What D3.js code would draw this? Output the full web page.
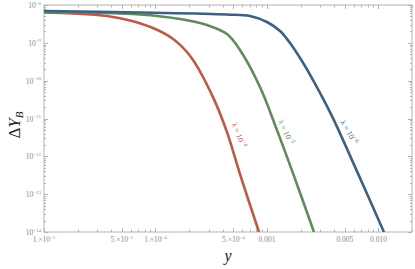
<!DOCTYPE html>
<html>
<head>
<meta charset="utf-8">
<script src="https://cdn.jsdelivr.net/npm/d3@7"></script>
<style>
  body { margin: 0; background: #fff; }
  text { font-family: "Liberation Serif", "DejaVu Serif", serif; }
</style>
</head>
<body>
<script>
// curves: x = y (abscissa), value = Delta Y_B
var xRed   = [1e-5, 1.82e-5, 3.67e-5, 5.91e-5, 9.5e-5, 1.44e-4, 2.08e-4, 3.28e-4, 4.38e-4, 5.73e-4, 8.48e-4];
var yRed   = [6.33e-9, 5.96e-9, 5.12e-9, 3.89e-9, 2.46e-9, 1.26e-9, 4.21e-10, 3.68e-11, 4.37e-12, 3.38e-13, 1e-14];
var xGreen = [1e-5, 7.26e-5, 1.66e-4, 2.9e-4, 4.38e-4, 5.73e-4, 8.66e-4, 1.23e-3, 1.71e-3, 2.64e-3];
var yGreen = [6.53e-9, 5.61e-9, 4.26e-9, 2.96e-9, 1.71e-9, 6.45e-10, 6.78e-11, 4.93e-12, 3.6e-13, 1e-14];
var xBlue  = [1e-5, 4.38e-4, 7.04e-4, 1e-3, 1.31e-3, 1.61e-3, 2.06e-3, 2.59e-3, 3.83e-3, 6.41e-3, 1.12e-2];
var yBlue  = [6.94e-9, 5.61e-9, 5.12e-9, 3.55e-9, 2.05e-9, 9.88e-10, 3.30e-10, 1.04e-10, 1.16e-11, 4.06e-13, 1e-14];

var seriesNames = ["\u03bb = 10", "\u03bb = 10", "\u03bb = 10"];
var seriesExp = ["\u22124", "\u22125", "\u22126"];

var xTickVals = [1e-5, 5e-5, 1e-4, 5e-4, 1e-3, 5e-3, 1e-2];
var xTickBase = ["1.\u00d710", "5.\u00d710", "1.\u00d710", "5.\u00d710", "0.001", "0.005", "0.010"];
var xTickExp  = ["\u22125", "\u22125", "\u22124", "\u22124", "", "", ""];
var yTickVals = [1e-8, 1e-9, 1e-10, 1e-11, 1e-12, 1e-13, 1e-14];
var yTickExp  = ["\u22128", "\u22129", "\u221210", "\u221211", "\u221212", "\u221213", "\u221214"];

var width = 415, height = 269;
var margin = {top: 5, right: 3, bottom: 37, left: 44};
var colors = ["#bd5a44", "#5e8d5b", "#3e6083"];

var svg = d3.select("body").append("svg")
  .attr("width", width)
  .attr("height", height);

var x = d3.scaleLog().domain([1e-5, 0.02]).range([margin.left, width - margin.right]);
var y = d3.scaleLog().domain([1e-14, 1e-8]).range([height - margin.bottom, margin.top]);

var axisColor = "#b3b3b3";
var labelColor = "#8a8a8a";

// minor ticks for every decade
var xMinor = [], yMinor = [];
for (var e = -5; e <= -2; e++) {
  for (var m = 2; m <= 9; m++) {
    var v = m * Math.pow(10, e);
    if (v <= 0.02 && m != 5) xMinor.push(v);
  }
}
for (var e2 = -14; e2 < -8; e2++) {
  for (var m2 = 2; m2 <= 9; m2++) yMinor.push(m2 * Math.pow(10, e2));
}

// frame
svg.append("rect")
  .attr("x", margin.left).attr("y", margin.top)
  .attr("width", width - margin.right - margin.left)
  .attr("height", height - margin.bottom - margin.top)
  .attr("fill", "none").attr("stroke", axisColor).attr("stroke-width", 1);

var x0 = margin.left, x1 = width - margin.right;
var y0 = height - margin.bottom, y1 = margin.top;

function drawTicks(vals, len) {
  vals.forEach(function(v) {
    var px = Math.round(x(v)) + 0.5;
    svg.append("line").attr("x1", px).attr("x2", px).attr("y1", y0).attr("y2", y0 - len)
      .attr("stroke", axisColor);
    svg.append("line").attr("x1", px).attr("x2", px).attr("y1", y1).attr("y2", y1 + len)
      .attr("stroke", axisColor);
  });
}
function drawYTicks(vals, len) {
  vals.forEach(function(v) {
    var py = Math.round(y(v)) + 0.5;
    svg.append("line").attr("x1", x0).attr("x2", x0 + len).attr("y1", py).attr("y2", py)
      .attr("stroke", axisColor);
    svg.append("line").attr("x1", x1).attr("x2", x1 - len).attr("y1", py).attr("y2", py)
      .attr("stroke", axisColor);
  });
}
drawTicks(xTickVals, 4);
drawTicks(xMinor, 2.5);
drawYTicks(yTickVals, 4);
drawYTicks(yMinor, 2);

// x tick labels
xTickVals.forEach(function(v, i) {
  var t = svg.append("text")
    .attr("x", x(v)).attr("y", y0 + 10)
    .attr("text-anchor", "middle")
    .attr("font-size", "7.5px")
    .attr("fill", labelColor);
  t.append("tspan").text(xTickBase[i]);
  if (xTickExp[i]) {
    t.append("tspan").attr("dy", -3.5).attr("font-size", "5px").text(xTickExp[i]);
  }
});

// y tick labels
yTickVals.forEach(function(v, i) {
  var t = svg.append("text")
    .attr("x", x0 - 3).attr("y", y(v) + 3)
    .attr("text-anchor", "end")
    .attr("font-size", "7.5px")
    .attr("fill", labelColor);
  t.append("tspan").text("10");
  t.append("tspan").attr("dy", -3.5).attr("font-size", "5px").text(yTickExp[i]);
});

// curves
var line = d3.line()
  .x(function(d) { return x(d[0]); })
  .y(function(d) { return y(d[1]); })
  .curve(d3.curveCatmullRom.alpha(0.5));

var allX = [xRed, xGreen, xBlue];
var allY = [yRed, yGreen, yBlue];

svg.append("defs").append("clipPath").attr("id", "clip")
  .append("rect").attr("x", x0).attr("y", y1).attr("width", x1 - x0).attr("height", y0 - y1);

allX.forEach(function(xs, i) {
  var pts = xs.map(function(v, j) { return [v, allY[i][j]]; });
  svg.append("path")
    .datum(pts)
    .attr("d", line)
    .attr("clip-path", "url(#clip)")
    .attr("fill", "none")
    .attr("stroke", colors[i])
    .attr("stroke-width", 2.6)
    .attr("stroke-linejoin", "round");
});

// labels along the curves
var labelPos = [[239, 135, 68], [286, 132, 64], [349, 132, 60]];
labelPos.forEach(function(p, i) {
  var t = svg.append("text")
    .attr("transform", "translate(" + p[0] + "," + p[1] + ") rotate(" + p[2] + ")")
    .attr("text-anchor", "middle")
    .attr("dy", "0.35em")
    .attr("font-size", "8px")
    .attr("fill", colors[i]);
  t.append("tspan").text(seriesNames[i]);
  t.append("tspan").attr("dy", -3.5).attr("font-size", "5.5px").text(seriesExp[i]);
});

// axis titles
var yl = svg.append("text")
  .attr("transform", "translate(20,125) rotate(-90)")
  .attr("text-anchor", "middle")
  .attr("font-size", "17px")
  .attr("fill", "#222");
yl.append("tspan").text("\u0394");
yl.append("tspan").attr("font-style", "italic").text("Y");
yl.append("tspan").attr("font-style", "italic").attr("font-size", "11px").attr("dy", 3).text("B");

svg.append("text")
  .attr("x", (x0 + x1) / 2).attr("y", 261)
  .attr("text-anchor", "middle")
  .attr("font-size", "16px")
  .attr("font-style", "italic")
  .attr("fill", "#222")
  .text("y");
</script>
</body>
</html>
